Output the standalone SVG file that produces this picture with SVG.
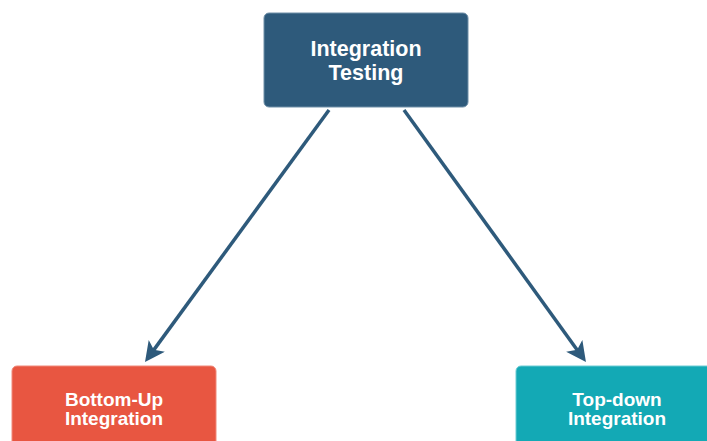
<svg xmlns="http://www.w3.org/2000/svg" width="707" height="441" viewBox="0 0 707 441">
<style>
  .box { stroke-width: 1; }
  .top { fill: #2e5a7b; stroke: #6f8fa8; }
  .red { fill: #e85641; stroke: #f0897a; }
  .teal { fill: #13a9b5; stroke: #6cccd4; }
  .lbl { font-family: "Liberation Sans", Arial, sans-serif; font-weight: bold; fill: #ffffff; text-anchor: middle; }
  .big { font-size: 21.5px; }
  .small { font-size: 19px; }
  .conn { stroke: #2e5a7b; stroke-width: 3.5; fill: none; marker-end: url(#arrow); }
</style>
<defs>
  <marker id="arrow" markerUnits="userSpaceOnUse" markerWidth="22" markerHeight="22" refX="10" refY="10" orient="auto" viewBox="0 0 22 22">
    <path d="M0,0 L20,10 L0,20 L5,10 z" fill="#2e5a7b"/>
  </marker>
</defs>
<rect width="707" height="441" fill="#ffffff"/>
<g id="connectors">
  <line class="conn" x1="329" y1="110" x2="150.9" y2="353.9"/>
  <line class="conn" x1="404" y1="110" x2="580.1" y2="353.9"/>
</g>
<g id="integration-testing">
  <rect class="box top" x="264" y="13" width="204" height="94" rx="5"/>
  <text class="lbl big" x="366" y="56">Integration</text>
  <text class="lbl big" x="366" y="80">Testing</text>
</g>
<g id="bottom-up">
  <rect class="box red" x="12" y="366" width="204" height="94" rx="5"/>
  <text class="lbl small" x="114" y="405.5">Bottom-Up</text>
  <text class="lbl small" x="114" y="425">Integration</text>
</g>
<g id="top-down">
  <rect class="box teal" x="516" y="366" width="204" height="94" rx="5"/>
  <text class="lbl small" x="617" y="405.5">Top-down</text>
  <text class="lbl small" x="617" y="425">Integration</text>
</g>
</svg>
